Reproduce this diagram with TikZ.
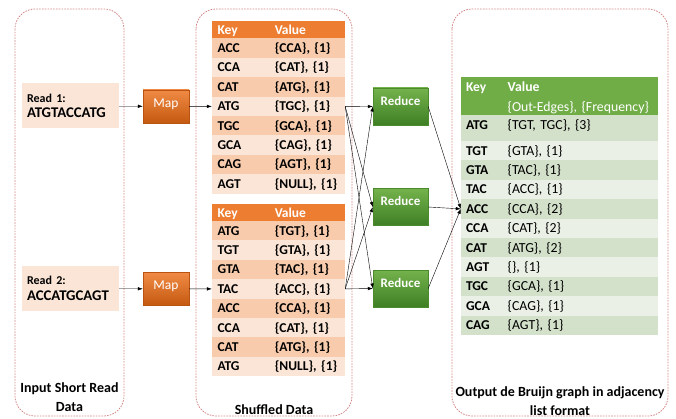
\documentclass[tikz,border=0pt]{standalone}
\usepackage{fontspec}
\setmainfont{Carlito}
\usetikzlibrary{arrows.meta}
\definecolor{pnl}{RGB}{212,135,135}
\definecolor{peach}{HTML}{FBE5D6}
\definecolor{oHead}{HTML}{ED7D31}
\definecolor{oDark}{HTML}{F7CBAC}
\definecolor{oLight}{HTML}{FBE5D6}
\definecolor{gHead}{HTML}{70AD47}
\definecolor{gDark}{HTML}{D3E0CA}
\definecolor{gLight}{HTML}{EAF0E6}
\definecolor{mapTop}{HTML}{F08A44}
\definecolor{mapBot}{HTML}{C55A11}
\definecolor{mapEdge}{HTML}{B85410}
\definecolor{redTop}{HTML}{74B24C}
\definecolor{redBot}{HTML}{3F7F25}
\definecolor{redEdge}{HTML}{4B8B2E}

\begin{document}
\begin{tikzpicture}[x=1pt, y=-1pt, node distance={19.4pt}, >={Latex[length=5pt,width=3.5pt]},
	panel/.style = {draw=pnl, line width=0.8pt, dash pattern=on 1.6pt off 1.2pt, rounded corners=20pt},
	title/.style = {align=center, font=\fontsize{14}{19}\selectfont\bfseries},
	read/.style = {fill=peach, text width=87pt, inner xsep=5pt, minimum height=45pt, align=left, font=\fontsize{13}{15.6}\selectfont\bfseries},
	map/.style = {draw=mapEdge, top color=mapTop, bottom color=mapBot, minimum width=46pt, minimum height=33pt, text=white, font=\fontsize{13.5}{16}\selectfont, text depth=6.5pt},
	reduce/.style = {draw=redEdge, top color=redTop, bottom color=redBot, minimum width=55pt, minimum height=37pt, text=white, font=\fontsize{13}{16}\selectfont\bfseries, text depth=12pt},
	cell/.style = {inner xsep=5.5pt, inner ysep=0pt, minimum height=19.4pt, text height=11pt, text depth=2.3pt, font=\fontsize{13.5}{16}\selectfont},
	key/.style = {cell, text width=47.5pt, font=\fontsize{13.5}{16}\selectfont\bfseries},
	val/.style = {cell, inner xsep=4.25pt, text width=66pt, node distance=66.5pt, font=\fontsize{13.5}{16}\selectfont\bfseries},
	keyC/.style = {cell, inner xsep=5pt, text width=31.7pt, font=\fontsize{13.5}{16}\selectfont\bfseries},
	valC/.style = {cell, inner xsep=5pt, text width=145.3pt, node distance=98.5pt, font=\fontsize{13.8}{16}\selectfont},
	headA/.style = {fill=oHead, text=white, minimum height=17pt, font=\fontsize{13.5}{16}\selectfont\bfseries},
	headC/.style = {fill=gHead, text=white, minimum height=38pt},
	dA/.style = {fill=oDark}, lA/.style = {fill=oLight},
	dC/.style = {fill=gDark}, lC/.style = {fill=gLight}]
	\useasboundingbox (0,0) rectangle (676,419);

	\draw[panel] (15,9) rectangle (124,416);
	\draw[panel] (196,9) rectangle (352,416);
	\draw[panel] (452,9) rectangle (668,416);

	\node[read] (in1) at (70.5,106) {{\fontsize{12}{14}\selectfont Read 1:}\\{\fontsize{14.8}{15}\selectfont ATGTACCATG}};
	\node[read] (in2) at (70.5,288.5) {{\fontsize{12}{14}\selectfont Read 2:}\\{\fontsize{14.8}{15}\selectfont ACCATGCAGT}};
	\node[title] (t1) at (69.5,397.5) {Input Short Read\\Data};

	\node[map] (map1) at (166,106.4) {Map};
	\node[map] (map2) at (166,288.9) {Map};

	\node[key, headA] (ka0) at (241.25,30) {Key};
	\node[val, headA] (va0) [right of=ka0] {Value};
	\node[key, dA] (ka1) at (241.25,48.2) {ACC};
	\node[val, dA] (va1) [right of=ka1] {\{CCA\}, \{1\}};
	\node[key, lA] (ka2) [below of=ka1] {CCA};
	\node[val, lA] (va2) [right of=ka2] {\{CAT\}, \{1\}};
	\node[key, dA] (ka3) [below of=ka2] {CAT};
	\node[val, dA] (va3) [right of=ka3] {\{ATG\}, \{1\}};
	\node[key, lA] (ka4) [below of=ka3] {ATG};
	\node[val, lA] (va4) [right of=ka4] {\{TGC\}, \{1\}};
	\node[key, dA] (ka5) [below of=ka4] {TGC};
	\node[val, dA] (va5) [right of=ka5] {\{GCA\}, \{1\}};
	\node[key, lA] (ka6) [below of=ka5] {GCA};
	\node[val, lA] (va6) [right of=ka6] {\{CAG\}, \{1\}};
	\node[key, dA] (ka7) [below of=ka6] {CAG};
	\node[val, dA] (va7) [right of=ka7] {\{AGT\}, \{1\}};
	\node[key, lA] (ka8) [below of=ka7] {AGT};
	\node[val, lA] (va8) [right of=ka8] {\{NULL\}, \{1\}};

	\node[key, headA] (kb0) at (241.25,212.75) {Key};
	\node[val, headA] (vb0) [right of=kb0] {Value};
	\node[key, dA] (kb1) at (241.25,230.7) {ATG};
	\node[val, dA] (vb1) [right of=kb1] {\{TGT\}, \{1\}};
	\node[key, lA] (kb2) [below of=kb1] {TGT};
	\node[val, lA] (vb2) [right of=kb2] {\{GTA\}, \{1\}};
	\node[key, dA] (kb3) [below of=kb2] {GTA};
	\node[val, dA] (vb3) [right of=kb3] {\{TAC\}, \{1\}};
	\node[key, lA] (kb4) [below of=kb3] {TAC};
	\node[val, lA] (vb4) [right of=kb4] {\{ACC\}, \{1\}};
	\node[key, dA] (kb5) [below of=kb4] {ACC};
	\node[val, dA] (vb5) [right of=kb5] {\{CCA\}, \{1\}};
	\node[key, lA] (kb6) [below of=kb5] {CCA};
	\node[val, lA] (vb6) [right of=kb6] {\{CAT\}, \{1\}};
	\node[key, dA] (kb7) [below of=kb6] {CAT};
	\node[val, dA] (vb7) [right of=kb7] {\{ATG\}, \{1\}};
	\node[key, lA] (kb8) [below of=kb7] {ATG};
	\node[val, lA] (vb8) [right of=kb8] {\{NULL\}, \{1\}};
	\node[title] (t2) at (274,410) {Shuffled Data};

	\node[reduce] (red1) at (400.5,106.5) {Reduce};
	\node[reduce] (red2) at (400.5,207) {Reduce};
	\node[reduce] (red3) at (400.5,288.5) {Reduce};

	\node[keyC, headC, text depth=20.3pt] (kc0) at (481.85,96) {Key};
	\node[valC, headC, align=left, text height=11pt, text depth=20.3pt, font=\fontsize{13.8}{19.7}\selectfont] (vc0) [right of=kc0] {\textbf{Value}\\\{Out-Edges\}, \{Frequency\}};
	\node[keyC, dC, minimum height=26pt, text depth=8.3pt] (kc1) at (481.85,128) {ATG};
	\node[valC, dC, minimum height=26pt, text depth=8.3pt] (vc1) [right of=kc1] {\{TGT, TGC\}, \{3\}};
	\node[keyC, lC] (kc2) at (481.85,150.7) {TGT};
	\node[valC, lC] (vc2) [right of=kc2] {\{GTA\}, \{1\}};
	\node[keyC, dC] (kc3) [below of=kc2] {GTA};
	\node[valC, dC] (vc3) [right of=kc3] {\{TAC\}, \{1\}};
	\node[keyC, lC] (kc4) [below of=kc3] {TAC};
	\node[valC, lC] (vc4) [right of=kc4] {\{ACC\}, \{1\}};
	\node[keyC, dC] (kc5) [below of=kc4] {ACC};
	\node[valC, dC] (vc5) [right of=kc5] {\{CCA\}, \{2\}};
	\node[keyC, lC] (kc6) [below of=kc5] {CCA};
	\node[valC, lC] (vc6) [right of=kc6] {\{CAT\}, \{2\}};
	\node[keyC, dC] (kc7) [below of=kc6] {CAT};
	\node[valC, dC] (vc7) [right of=kc7] {\{ATG\}, \{2\}};
	\node[keyC, lC] (kc8) [below of=kc7] {AGT};
	\node[valC, lC] (vc8) [right of=kc8] {\{\}, \{1\}};
	\node[keyC, dC] (kc9) [below of=kc8] {TGC};
	\node[valC, dC] (vc9) [right of=kc9] {\{GCA\}, \{1\}};
	\node[keyC, lC] (kc10) [below of=kc9] {GCA};
	\node[valC, lC] (vc10) [right of=kc10] {\{CAG\}, \{1\}};
	\node[keyC, dC] (kc11) [below of=kc10] {CAG};
	\node[valC, dC] (vc11) [right of=kc11] {\{AGT\}, \{1\}};
	\node[title] (t3) at (560,401) {Output de Bruijn graph in adjacency\\list format};

	\draw[->] (in1) -- (map1);
	\draw[->] (in2) -- (map2);
	\draw[->] (map1) -- (ka4.west);
	\draw[->] (map2) -- (kb4.west);
	\draw[->] (va4.east) -- (red1.west);
	\draw[->] (va4.east) -- (red2.west);
	\draw[->] (va4.east) -- (red3.west);
	\draw[->] (vb4.east) -- (red1.west);
	\draw[->] (vb4.east) -- (red2.west);
	\draw[->] (vb4.east) -- (red3.west);
	\draw[->] (red1.east) -- (kc5.west);
	\draw[->] (red2.east) -- (kc5.west);
	\draw[->] (red3.east) -- (kc5.west);
\end{tikzpicture}
\end{document}
